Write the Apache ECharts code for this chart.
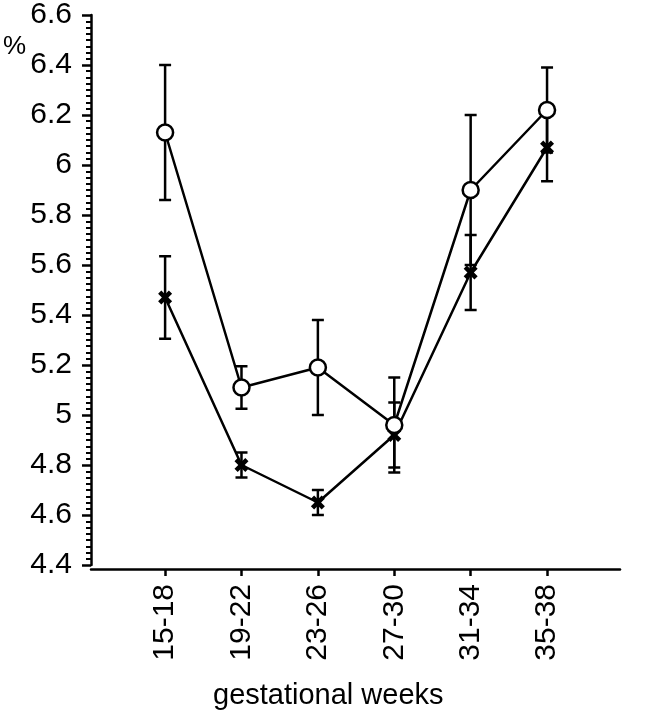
<!DOCTYPE html>
<html>
<head>
<meta charset="utf-8">
<script src="https://cdn.jsdelivr.net/npm/echarts@6/dist/echarts.min.js"></script>
<style>html,body{margin:0;padding:0;background:#fff}#c{width:650px;height:715px}</style>
</head>
<body>
<div id="c"></div>
<script>
var categories = ['15-18', '19-22', '23-26', '27-30', '31-34', '35-38'];
var circleMean = [6.13, 5.11, 5.19, 4.96, 5.90, 6.22];
var circleErr  = [0.27, 0.085, 0.19, 0.19, 0.30, 0.17];
var crossMean  = [5.47, 4.80, 4.65, 4.92, 5.57, 6.07];
var crossErr   = [0.165, 0.05, 0.05, 0.13, 0.15, 0.135];
var yTicks = [4.4, 4.6, 4.8, 5, 5.2, 5.4, 5.6, 5.8, 6, 6.2, 6.4, 6.6];

var FONT = 'Liberation Sans, Arial, sans-serif';
var xPos = categories.map(function (c, i) { return i + 1; });

function pts(mean) { return mean.map(function (v, i) { return [xPos[i], v]; }); }
function errData(mean, err) { return mean.map(function (v, i) { return [xPos[i], v - err[i], v + err[i]]; }); }

function errSeries(name, mean, err) {
  return {
    name: name, type: 'custom', z: 1,
    data: errData(mean, err),
    renderItem: function (params, api) {
      var x = api.value(0);
      var lo = api.coord([x, api.value(1)]);
      var hi = api.coord([x, api.value(2)]);
      var w = 6;
      var st = { stroke: '#000', lineWidth: 2.5 };
      return {
        type: 'group',
        children: [
          { type: 'line', shape: { x1: lo[0], y1: lo[1], x2: hi[0], y2: hi[1] }, style: st },
          { type: 'line', shape: { x1: lo[0] - w, y1: lo[1], x2: lo[0] + w, y2: lo[1] }, style: st },
          { type: 'line', shape: { x1: hi[0] - w, y1: hi[1], x2: hi[0] + w, y2: hi[1] }, style: st }
        ]
      };
    }
  };
}

var crossPath = 'path://M0,2.3 L2.3,0 L5,2.7 L7.7,0 L10,2.3 L7.3,5 L10,7.7 L7.7,10 L5,7.3 L2.3,10 L0,7.7 L2.7,5 Z';

var chart = echarts.init(document.getElementById('c'), null, { renderer: 'canvas' });
chart.setOption({
  animation: false,
  backgroundColor: '#fff',
  grid: { left: 91, right: 30, top: 13, bottom: 150 },
  xAxis: {
    type: 'value', min: 0.03, max: 6.955, offset: 4,
    splitLine: { show: false },
    axisLine: { show: true, lineStyle: { color: '#000', width: 2.5 } },
    axisTick: { show: true, customValues: xPos, length: 7, lineStyle: { color: '#000', width: 2.5 } },
    axisLabel: {
      customValues: xPos, rotate: 90, margin: 15,
      color: '#000', fontSize: 30, fontFamily: FONT,
      formatter: function (v) { return categories[Math.round(v) - 1] || ''; }
    }
  },
  yAxis: {
    type: 'value', min: 4.4, max: 6.6, interval: 0.2,
    splitLine: { show: false },
    axisLine: { show: true, lineStyle: { color: '#000', width: 2.5 } },
    axisTick: { show: true, length: 9, lineStyle: { color: '#000', width: 2.5 } },
    minorTick: { show: true, splitNumber: 8, length: 5, lineStyle: { color: '#000', width: 2 } },
    axisLabel: {
      margin: 19, color: '#000', fontSize: 30, fontFamily: FONT,
      formatter: function (v) { return String(+v.toFixed(1)); }
    }
  },
  graphic: [
    { type: 'text', left: 3, top: 34, style: { text: '%', font: '26px ' + FONT, fill: '#000' } },
    { type: 'text', left: 213, top: 681, style: { text: 'gestational weeks', font: '29px ' + FONT, fill: '#000' } }
  ],
  series: [
    errSeries('circleErr', circleMean, circleErr),
    errSeries('crossErr', crossMean, crossErr),
    {
      name: 'cross', type: 'line', z: 3, data: pts(crossMean),
      lineStyle: { color: '#000', width: 2.5 },
      symbol: crossPath, symbolSize: 14,
      itemStyle: { color: '#000', borderWidth: 0 }
    },
    {
      name: 'circle', type: 'line', z: 4, data: pts(circleMean),
      lineStyle: { color: '#000', width: 2.5 },
      symbol: 'circle', symbolSize: 16,
      itemStyle: { color: '#fff', borderColor: '#000', borderWidth: 2.5 }
    }
  ]
});
</script>
</body>
</html>
